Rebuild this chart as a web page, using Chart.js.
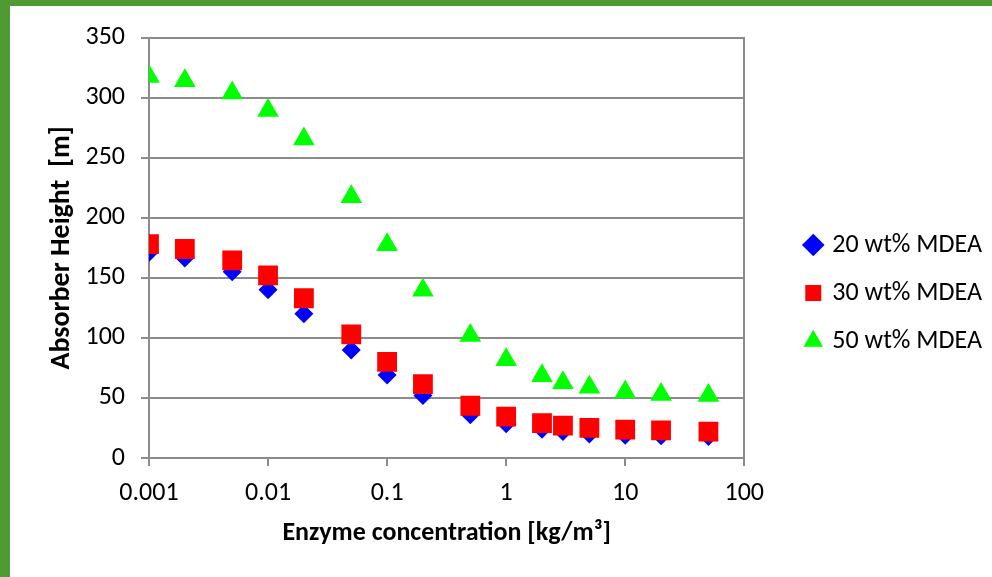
<!DOCTYPE html>
<html>
<head>
<meta charset="utf-8">
<script src="https://cdn.jsdelivr.net/npm/chart.js@4/dist/chart.umd.min.js"></script>
<style>
    html, body { margin: 0; padding: 0; background: #fff; }
    #frame {
        width: 982px;
        height: 571px;
        border-top: 6px solid #509a33;
        border-left: 10px solid #509a33;
        background: #fff;
    }
</style>
</head>
<body>
<div id="frame"><canvas id="enzyme-chart" width="982" height="571"></canvas></div>
<script>
const concentration = [0.001, 0.002, 0.005, 0.01, 0.02, 0.05, 0.1, 0.2, 0.5, 1, 2, 3, 5, 10, 20, 50];
const mdea20 = [171, 166.5, 155, 140, 120, 90, 69, 52, 36, 28.5, 24, 22, 20, 19, 18.5, 18];
const mdea30 = [178, 174, 164.5, 152, 133, 103, 80, 61.5, 43.5, 34.5, 29, 27, 25, 23.7, 23, 22];
const mdea50 = [317.7, 314, 303.8, 289.4, 265.5, 217.4, 177.6, 139.7, 101.9, 81.7, 68.4, 62.6, 59, 54.9, 52.9, 52];
const xTicks = [0.001, 0.01, 0.1, 1, 10, 100];
const seriesNames = ['20 wt% MDEA', '30 wt% MDEA', '50 wt% MDEA'];

const gridGrey = '#8c8c8c';
const fontFamily = 'Carlito';

function toPoints(values) {
    return concentration.map((x, i) => ({x: x, y: values[i]}));
}

function showChart() {
    const data = {
        datasets: [{
            label: seriesNames[0],
            data: toPoints(mdea20),
            pointStyle: 'rectRot',
            pointRadius: 9.5,
            pointHoverRadius: 9.5,
            backgroundColor: '#0000ff',
            borderColor: '#0000ff',
            borderWidth: 0,
            order: 3
        }, {
            label: seriesNames[1],
            data: toPoints(mdea30),
            pointStyle: 'rect',
            pointRadius: 14,
            pointHoverRadius: 14,
            backgroundColor: '#ff0000',
            borderColor: '#ff0000',
            borderWidth: 0,
            order: 2
        }, {
            label: seriesNames[2],
            data: toPoints(mdea50),
            pointStyle: 'triangle',
            pointRadius: 12.5,
            pointHoverRadius: 12.5,
            backgroundColor: '#00ff00',
            borderColor: '#00ff00',
            borderWidth: 0,
            order: 1
        }]
    };

    const config = {
        type: 'scatter',
        data: data,
        options: {
            responsive: false,
            animation: false,
            layout: {
                padding: {top: 31, right: 0, bottom: 28, left: 0}
            },
            scales: {
                x: {
                    type: 'logarithmic',
                    min: 0.001,
                    max: 100,
                    afterBuildTicks: (scale) => {
                        scale.ticks = xTicks.map(v => ({value: v}));
                    },
                    afterFit: (scale) => { scale.height = 91; },
                    ticks: {
                        color: '#000',
                        padding: 12,
                        autoSkip: false,
                        maxRotation: 0,
                        font: {family: fontFamily, size: 26},
                        callback: (value) => String(value)
                    },
                    grid: {
                        drawOnChartArea: false,
                        drawTicks: true,
                        tickLength: 8,
                        color: gridGrey,
                        lineWidth: 2
                    },
                    border: {color: gridGrey, width: 2},
                    title: {
                        display: true,
                        text: 'Enzyme concentration [kg/m³]',
                        color: '#000',
                        font: {family: fontFamily, size: 26, weight: 'bold'},
                        padding: {top: 0, bottom: 0}
                    }
                },
                y: {
                    min: 0,
                    max: 350,
                    afterFit: (scale) => { scale.width = 139; },
                    ticks: {
                        stepSize: 50,
                        color: '#000',
                        padding: 16,
                        font: {family: fontFamily, size: 26}
                    },
                    grid: {
                        color: gridGrey,
                        lineWidth: 2,
                        tickLength: 8
                    },
                    border: {color: gridGrey, width: 2},
                    title: {
                        display: true,
                        text: 'Absorber Height  [m]',
                        color: '#000',
                        font: {family: fontFamily, size: 28, weight: 'bold'},
                        padding: {top: 35, bottom: 0}
                    }
                },
                yRight: {
                    position: 'right',
                    min: 0,
                    max: 350,
                    afterFit: (scale) => { scale.width = 41; },
                    ticks: {display: false},
                    grid: {display: false},
                    border: {color: gridGrey, width: 2}
                }
            },
            plugins: {
                legend: {
                    position: 'right',
                    maxWidth: 400,
                    labels: {
                        usePointStyle: true,
                        boxHeight: 16,
                        boxWidth: 12,
                        padding: 22,
                        color: '#000',
                        font: {family: fontFamily, size: 26},
                        sort: (a, b) => a.datasetIndex - b.datasetIndex
                    }
                },
                tooltip: {enabled: false}
            }
        }
    };

    new Chart(document.getElementById('enzyme-chart'), config);
}

showChart();
</script>
</body>
</html>
